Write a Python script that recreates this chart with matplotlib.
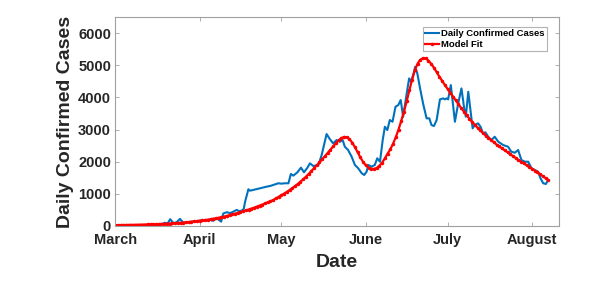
import matplotlib.pyplot as plt
import numpy as np

plt.rcParams['font.family'] = ['Liberation Sans', 'DejaVu Sans']
plt.rcParams['font.weight'] = 'bold'

# month tick positions (days since 1 March)
month_days = [0, 31, 61, 92, 122, 153]
month_names = ['March', 'April', 'May', 'June', 'July', 'August']

# daily confirmed cases (smoothed)
case_days = [12, 14, 16, 17, 18.3, 19.2, 20.2, 21.4, 22.5, 23.8, 25, 26.5, 28, 29.5,
             31.2, 33, 34.8, 36, 37.3, 38.2, 38.9, 39.7, 41, 42.2, 43.4, 44.6, 45.5,
             46.5, 47.2, 47.7, 48.9, 49.5, 51, 53.2, 55.6, 57, 58, 59, 59.9, 61, 62.3,
             63.6, 64.5, 65.4, 66.9, 68.2, 69.3, 70.5, 71.5, 72.7, 74.6, 75.8, 77.6,
             78.8, 80, 81.3, 82.5, 83.5, 84.3, 85.5, 86.8, 88, 89.2, 90.5, 91.4, 92.3,
             92.9, 94.1, 95.3, 96.2, 97.2, 98.2, 99, 99.9, 100.8, 101.8, 102.9, 103.9,
             104.8, 105.7, 107.2, 107.9, 108.5, 109.4, 110.1, 110.9, 111.8, 113, 114.3,
             115.3, 116.1, 117, 118, 119.2, 120.4, 121, 121.6, 122.2, 123.2, 123.8,
             124.7, 125.9, 127.1, 128.1, 128.7, 129.6, 130.4, 131.2, 132, 133.2, 134.1,
             135, 135.9, 136.9, 138.1, 139.3, 140.6, 142.4, 144.2, 145.4, 146.7, 147.9,
             149.1, 150.4, 151.6, 152.8, 154, 155.2, 156.1, 157.1, 158.1, 158.9]
case_vals = [0, 10, 20, 40, 90, 60, 200, 80, 100, 210, 90, 110, 120, 140,
             156, 160, 178, 150, 230, 170, 125, 380, 418, 390, 437, 490, 450,
             470, 520, 748, 1135, 1090, 1120, 1166, 1216, 1240, 1269, 1300, 1322, 1310, 1322,
             1322, 1612, 1560, 1665, 1809, 1665, 1800, 1945, 1861, 1893, 2205, 2859,
             2700, 2569, 2672, 2619, 2672, 2463, 2360, 2151, 1893, 1790, 1634, 1581, 1684,
             1893, 1840, 1893, 2101, 1995, 2672, 3087, 2984, 3296, 3243, 3711, 3763,
             3920, 3399, 4231, 4596, 4490, 4699, 4958, 4752, 4334, 3816, 3349,
             3349, 3140, 3109, 3296, 3940, 3972, 3941, 3972, 3941, 4387, 3920,
             3243, 3816, 4284, 3661, 3399, 4178, 3607, 3037, 3140, 3193, 3087,
             2881, 2912, 2775, 2672, 2775, 2619, 2516, 2463, 2307, 2276, 2360,
             2049, 1995, 1995, 1790, 1737, 1684, 1478, 1322, 1300, 1425]

# model fit, one value per day from 1 March
fit_vals = [15, 16, 17, 19, 20, 22, 23, 25, 27, 29,
            31, 34, 36, 39, 42, 45, 49, 53, 57, 61,
            66, 71, 77, 83, 89, 96, 103, 111, 120, 129,
            139, 150, 161, 173, 186, 200, 215, 230, 246, 262,
            282, 303, 325, 348, 372, 396, 421, 447, 474, 502,
            531, 561, 592, 624, 657, 691, 726, 762, 800, 850,
            900, 950, 1000, 1055, 1110, 1170, 1235, 1300, 1370, 1445,
            1525, 1610, 1700, 1790, 1880, 1975, 2070, 2170, 2270, 2370,
            2470, 2570, 2660, 2730, 2770, 2760, 2700, 2590, 2450, 2290,
            2130, 1990, 1880, 1810, 1775, 1770, 1800, 1870, 1970, 2100,
            2250, 2380, 2560, 2760, 3000, 3270, 3560, 3880, 4230, 4560,
            4850, 5060, 5180, 5230, 5220, 5150, 5050, 4930, 4790, 4650,
            4520, 4390, 4270, 4150, 4030, 3910, 3790, 3670, 3560, 3450,
            3340, 3240, 3150, 3060, 2970, 2890, 2810, 2740, 2670, 2600,
            2530, 2470, 2410, 2350, 2290, 2230, 2170, 2110, 2050, 1995,
            1940, 1885, 1830, 1775, 1720, 1665, 1600, 1540, 1480, 1420]
fit_days = np.arange(len(fit_vals))

txt = '#262626'
fig = plt.figure(figsize=(6.06, 2.90), dpi=100)
ax = fig.add_axes([0.19, 0.222, 0.732, 0.718])

ax.plot(case_days, case_vals, '-', color='#0072BD', lw=1.5, label='Daily Confirmed Cases')
ax.plot(fit_days, fit_vals, '.-', color='red', lw=1.6, ms=3, label='Model Fit')

ax.set_xlim(0, 162.8)
ax.set_ylim(0, 6500)
ax.set_xticks(month_days)
ax.set_xticklabels(month_names)
ax.set_yticks(range(0, 6001, 1000))
ax.tick_params(direction='in', length=3, width=0.6, colors='#a0a0a0',
               labelcolor=txt, labelsize=10.5, top=True, right=True)
ax.tick_params(axis='x', pad=5)
ax.tick_params(axis='y', pad=3)
for s in ax.spines.values():
    s.set_color('#a0a0a0')
    s.set_linewidth(0.8)
for lab in ax.get_xticklabels() + ax.get_yticklabels():
    lab.set_fontweight('bold')

ax.set_xlabel('Date', fontsize=14, fontweight='bold', color=txt, labelpad=5)
ax.set_ylabel('Daily Confirmed Cases', fontsize=14, fontweight='bold', color=txt, labelpad=3)

leg = ax.legend(loc='upper right', bbox_to_anchor=(0.974, 0.955), fontsize=6.8,
                frameon=True, fancybox=False, handlelength=1.5, handletextpad=0.2,
                borderpad=0.25, labelspacing=0.2, borderaxespad=0)
leg.get_frame().set_edgecolor('#a0a0a0')
leg.get_frame().set_linewidth(0.8)
for t in leg.get_texts():
    t.set_fontweight('bold')
    t.set_color('black')

fig.savefig('out.png', dpi=100)
